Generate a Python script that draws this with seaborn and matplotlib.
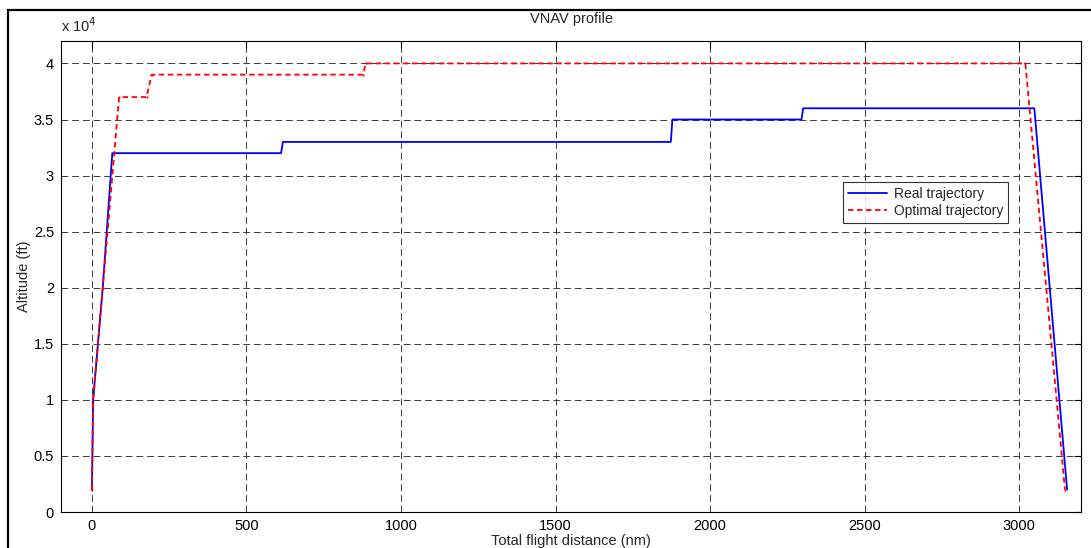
import matplotlib
matplotlib.use("Agg")
import matplotlib.pyplot as plt
from matplotlib.patches import Rectangle
from matplotlib.ticker import FuncFormatter
import pandas as pd
import seaborn as sns

# Flight profile vertices: distance (nm) and altitude (ft)
real_dist = [0, 4, 35, 66, 612, 618, 1873, 1878, 2296, 2301, 3049, 3155]
real_alt = [2000, 10000, 20000, 32000, 32000, 33000, 33000, 35000, 35000, 36000, 36000, 2000]

opt_dist = [0, 4, 35, 88, 177, 193, 877, 886, 3020, 3148]
opt_alt = [2000, 10000, 20000, 37000, 37000, 39000, 39000, 40000, 40000, 2000]

x_ticks = [0, 500, 1000, 1500, 2000, 2500, 3000]
y_ticks = [0, 5000, 10000, 15000, 20000, 25000, 30000, 35000, 40000]

sns.set_style("white")
plt.rcParams["font.family"] = ["Liberation Sans", "DejaVu Sans"]

real = pd.DataFrame({"dist": real_dist, "alt": real_alt})
opt = pd.DataFrame({"dist": opt_dist, "alt": opt_alt})

fig = plt.figure(figsize=(10.91, 5.48), dpi=100)
ax = fig.add_axes([61 / 1091, 1 - 512 / 548, (1081 - 61) / 1091, (512 - 41) / 548])

ax.set_xlim(-100, 3200)
ax.set_ylim(0, 42000)
ax.set_xticks(x_ticks)
ax.set_yticks(y_ticks)
ax.yaxis.set_major_formatter(FuncFormatter(lambda v, p: f"{v / 1e4:g}"))

ax.grid(True, color="#3a3a3a", linestyle=(0, (7, 4)), linewidth=0.7)
ax.set_axisbelow(True)

sns.lineplot(data=real, x="dist", y="alt", ax=ax, color="#0000ff", linewidth=1.3,
             estimator=None, sort=False, label="Real trajectory")
sns.lineplot(data=opt, x="dist", y="alt", ax=ax, color="#ff0000", linewidth=1.3,
             linestyle=(0, (3, 2)), marker=".", markersize=3, markeredgewidth=0,
             estimator=None, sort=False, label="Optimal trajectory")

for s in ax.spines.values():
    s.set_visible(True)
    s.set_color("black")
    s.set_linewidth(0.8)

ax.tick_params(direction="in", length=5, width=0.8, top=True, right=True,
               labelsize=10.5, colors="black", pad=5)

ax.set_xlabel("Total flight distance (nm)", fontsize=10.5, labelpad=1)
ax.set_ylabel("Altitude (ft)", fontsize=10.5, labelpad=2)
ax.set_title("VNAV profile", fontsize=10.5, pad=13)
ax.text(0.0, 1.013, r"x 10$^4$", transform=ax.transAxes, fontsize=10.5,
        ha="left", va="bottom")

leg = ax.legend(loc="upper left", bbox_to_anchor=(0.767, 0.701), borderaxespad=0,
                fontsize=10, frameon=True, fancybox=False, edgecolor="black",
                handlelength=2.8, handletextpad=0.5, borderpad=0.35, labelspacing=0.25)
leg.get_frame().set_linewidth(0.8)

# Outer figure frame
fig.patches.append(Rectangle((8 / 1091, -0.1), 1.2, 1.1 - 10 / 548, transform=fig.transFigure,
                             fill=False, edgecolor="black", linewidth=1.6))

fig.savefig("out.png", dpi=100)
